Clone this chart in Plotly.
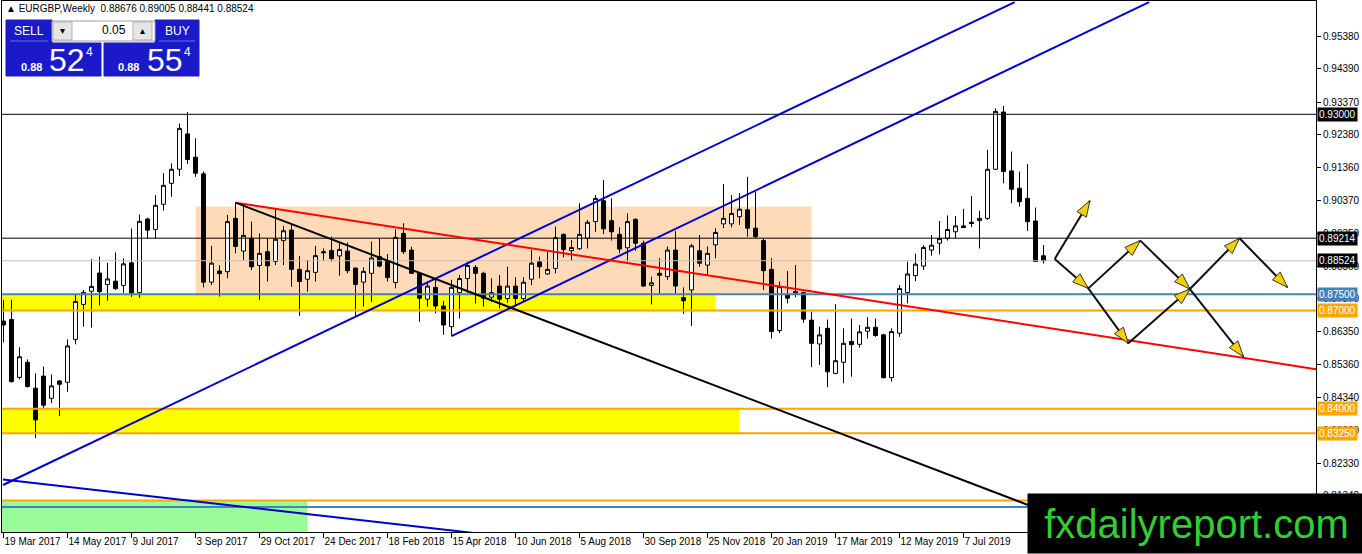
import math
import pandas as pd
import plotly.graph_objects as go

# ---------------- data (EURGBP weekly) ----------------
start_date = "2017-03-19"
opens = [0.8668, 0.8673, 0.8496, 0.8542, 0.8463, 0.8500, 0.8432, 0.8485, 0.8481, 0.8612,
         0.8719, 0.8759, 0.8815, 0.8780, 0.8790, 0.8777, 0.8846, 0.8755, 0.8980, 0.8948,
         0.9025, 0.9089, 0.9132, 0.9240, 0.9169, 0.9118, 0.8787, 0.8821, 0.8819, 0.8982,
         0.8882, 0.8921, 0.8838, 0.8880, 0.8850, 0.8914, 0.8946, 0.8826, 0.8796, 0.8817,
         0.8880, 0.8884, 0.8867, 0.8882, 0.8830, 0.8787, 0.8814, 0.8865, 0.8852, 0.8786,
         0.8936, 0.8885, 0.8814, 0.8735, 0.8771, 0.8714, 0.8651, 0.8755, 0.8798, 0.8832,
         0.8814, 0.8741, 0.8775, 0.8737, 0.8775, 0.8737, 0.8796, 0.8849, 0.8812, 0.8829,
         0.8933, 0.8883, 0.8889, 0.8921, 0.8972, 0.9036, 0.8975, 0.8933, 0.8892, 0.8979,
         0.8906, 0.8777, 0.8814, 0.8804, 0.8885, 0.8740, 0.8763, 0.8883, 0.8839, 0.8901,
         0.8965, 0.8965, 0.8987, 0.9008, 0.8952, 0.8914, 0.8826, 0.8639, 0.8748, 0.8753,
         0.8755, 0.8671, 0.8598, 0.8646, 0.8508, 0.8542, 0.8606, 0.8597, 0.8637, 0.8649,
         0.8626, 0.8495, 0.8631, 0.8755, 0.8807, 0.8836, 0.8885, 0.8906, 0.8921, 0.8941,
         0.8959, 0.8970, 0.8975, 0.8982, 0.9132, 0.9307, 0.9127, 0.9074, 0.9043, 0.8974,
         0.88676]
highs = [0.8733, 0.8733, 0.8588, 0.8551, 0.8508, 0.8529, 0.8505, 0.8488, 0.8612, 0.8749,
         0.8763, 0.8858, 0.8865, 0.8846, 0.8878, 0.8860, 0.8951, 0.8994, 0.8984, 0.9053,
         0.9120, 0.9150, 0.9272, 0.9307, 0.9227, 0.9125, 0.8898, 0.8839, 0.8992, 0.9030,
         0.9023, 0.8972, 0.8936, 0.8921, 0.9010, 0.8959, 0.8965, 0.8867, 0.8855, 0.8898,
         0.8890, 0.8926, 0.8911, 0.8908, 0.8832, 0.8832, 0.8911, 0.8921, 0.8873, 0.8948,
         0.8967, 0.8895, 0.8816, 0.8789, 0.8794, 0.8730, 0.8794, 0.8809, 0.8850, 0.8839,
         0.8819, 0.8799, 0.8809, 0.8834, 0.8802, 0.8802, 0.8885, 0.8865, 0.8880, 0.8957,
         0.8936, 0.8916, 0.9028, 0.8977, 0.9053, 0.9099, 0.9043, 0.8955, 0.8997, 0.8982,
         0.8914, 0.8804, 0.8860, 0.8896, 0.8943, 0.8771, 0.8904, 0.8931, 0.8896, 0.8952,
         0.9087, 0.9053, 0.9059, 0.9109, 0.9064, 0.8921, 0.8860, 0.8789, 0.8821, 0.8839,
         0.8758, 0.8697, 0.8651, 0.8673, 0.8720, 0.8646, 0.8676, 0.8656, 0.8680, 0.8676,
         0.8629, 0.8646, 0.8778, 0.8850, 0.8874, 0.8900, 0.8931, 0.8974, 0.8991, 0.8989,
         0.9011, 0.9050, 0.9005, 0.9191, 0.9318, 0.9326, 0.9186, 0.9125, 0.9148, 0.9015,
         0.89005]
lows = [0.8603, 0.8480, 0.8490, 0.8465, 0.8310, 0.8401, 0.8417, 0.8378, 0.8452, 0.8597,
        0.8651, 0.8648, 0.8716, 0.8730, 0.8763, 0.8754, 0.8742, 0.8739, 0.8920, 0.8921,
        0.9006, 0.9048, 0.9111, 0.9148, 0.9109, 0.8771, 0.8778, 0.8743, 0.8799, 0.8875,
        0.8855, 0.8824, 0.8732, 0.8789, 0.8839, 0.8839, 0.8773, 0.8684, 0.8758, 0.8789,
        0.8853, 0.8850, 0.8807, 0.8814, 0.8684, 0.8712, 0.8727, 0.8832, 0.8789, 0.8768,
        0.8873, 0.8812, 0.8666, 0.8712, 0.8692, 0.8626, 0.8622, 0.8676, 0.8755, 0.8722,
        0.8712, 0.8727, 0.8707, 0.8724, 0.8712, 0.8729, 0.8778, 0.8799, 0.8809, 0.8814,
        0.8863, 0.8853, 0.8885, 0.8890, 0.8941, 0.8934, 0.8914, 0.8875, 0.8850, 0.8883,
        0.8773, 0.8719, 0.8753, 0.8794, 0.8753, 0.8690, 0.8653, 0.8834, 0.8809, 0.8860,
        0.8952, 0.8955, 0.8962, 0.8926, 0.8921, 0.8763, 0.8615, 0.8631, 0.8722, 0.8741,
        0.8663, 0.8527, 0.8534, 0.8466, 0.8506, 0.8478, 0.8498, 0.8587, 0.8615, 0.8620,
        0.8493, 0.8483, 0.8620, 0.8722, 0.8790, 0.8824, 0.8868, 0.8872, 0.8914, 0.8921,
        0.8952, 0.8955, 0.8890, 0.8977, 0.9130, 0.9089, 0.9028, 0.9018, 0.8943, 0.8850,
        0.88441]
closes = [0.8656, 0.8483, 0.8559, 0.8468, 0.8366, 0.8411, 0.8470, 0.8475, 0.8592, 0.8728,
          0.8756, 0.8774, 0.8758, 0.8797, 0.8767, 0.8843, 0.8754, 0.8973, 0.8946, 0.9022,
          0.9083, 0.9132, 0.9257, 0.9162, 0.9120, 0.8787, 0.8845, 0.8813, 0.8972, 0.8896,
          0.8930, 0.8834, 0.8875, 0.8837, 0.8918, 0.8944, 0.8826, 0.8789, 0.8822, 0.8868,
          0.8877, 0.8859, 0.8887, 0.8822, 0.8780, 0.8820, 0.8861, 0.8836, 0.8801, 0.8924,
          0.8880, 0.8814, 0.8738, 0.8775, 0.8714, 0.8656, 0.8771, 0.8798, 0.8838, 0.8814,
          0.8738, 0.8755, 0.8735, 0.8775, 0.8737, 0.8787, 0.8845, 0.8834, 0.8826, 0.8923,
          0.8887, 0.8893, 0.8933, 0.8970, 0.9043, 0.8950, 0.8941, 0.8888, 0.8972, 0.8906,
          0.8775, 0.8785, 0.8808, 0.8885, 0.8775, 0.8730, 0.8898, 0.8845, 0.8875, 0.8939,
          0.8982, 0.8997, 0.9010, 0.8952, 0.8926, 0.8822, 0.8636, 0.8773, 0.8738, 0.8758,
          0.8674, 0.8600, 0.8626, 0.8513, 0.8547, 0.8600, 0.8596, 0.8635, 0.8649, 0.8624,
          0.8495, 0.8636, 0.8768, 0.8812, 0.8842, 0.8893, 0.8900, 0.8920, 0.8948, 0.8959,
          0.8954, 0.8966, 0.8982, 0.9132, 0.9309, 0.9125, 0.9071, 0.9033, 0.8972, 0.8850,
          0.88524]

x_tick_labels = ["19 Mar 2017", "14 May 2017", "9 Jul 2017", "3 Sep 2017", "29 Oct 2017",
                 "24 Dec 2017", "18 Feb 2018", "15 Apr 2018", "10 Jun 2018", "5 Aug 2018",
                 "30 Sep 2018", "25 Nov 2018", "20 Jan 2019", "17 Mar 2019", "12 May 2019",
                 "7 Jul 2019"]
y_tick_values = [0.95380, 0.94390, 0.93370, 0.92380, 0.91360, 0.90370, 0.89350, 0.88360,
                 0.87370, 0.86350, 0.85360, 0.84340, 0.83330, 0.82330, 0.81340]

# horizontal levels
level_prices = [0.93000, 0.89214, 0.88524, 0.87500, 0.87000, 0.84000, 0.83250, 0.81200, 0.81000]
level_colors = ["#000000", "#000000", "#C0C0C0", "#4682B4", "#FFA500", "#FFA500", "#FFA500",
                "#FFA500", "#4682B4"]
level_labelled = [True, True, True, True, True, True, True, False, False]
label_bg = ["#000000", "#000000", "#000000", "#4682B4", "#FFA500", "#FFA500", "#FFA500",
            None, None]

# zones: (week from, week to, price low, price high)
zone_week_from = [24, None, None, None]
zone_week_to = [101, 89, 92, 38]
zone_low = [0.8750, 0.8700, 0.8325, None]
zone_high = [0.9018, 0.8750, 0.8400, 0.8120]
zone_colors = ["#FFDAB9", "#FFFF00", "#FFFF00", "#98FB98"]

# trend lines: start week, start price, end week, end price
trend_w0 = [-0.06, 56.0, -0.06, 29.0, 29.0]
trend_p0 = [0.8167, 0.8622, 0.8184, 0.9030, 0.9030]
trend_w1 = [126.4, 143.2, 60.0, 164.1, 164.1]
trend_p1 = [0.9643, 0.9643, 0.8017, 0.8521, 0.7770]
trend_colors = ["#0000CD", "#0000CD", "#0000CD", "#FF0000", "#000000"]

# projected path arrows (week, price)
arrow_pts = {"A": (131.4, 0.8858), "A1": (135.8, 0.9036), "B": (135.6, 0.8768),
             "C": (142.1, 0.8914), "D": (140.6, 0.8600), "E": (148.3, 0.8766),
             "F": (154.5, 0.8921), "G": (155.0, 0.8559), "H": (160.5, 0.8771)}
arrow_legs = [("A", "A1"), ("A", "B"), ("B", "C"), ("B", "D"), ("C", "E"), ("D", "E"),
              ("E", "F"), ("E", "G"), ("F", "H")]

# ---------------- geometry ----------------
W, H = 1362, 554
ML, MR, MT, MB = 2, 46, 1, 22
PW, PH = W - ML - MR, H - MT - MB
X0, X1 = -0.1875, 164.06
Y0, Y1 = 0.80234, 0.96463

t0 = pd.Timestamp(start_date)
weeks = [i for i in range(len(opens))]
tick_vals = [(pd.Timestamp(s) - t0).days / 7 for s in x_tick_labels]


def px(x):
    return (x - ML) / PW


def py(y):
    return (MT + PH - y) / PH


fig = go.Figure()
fig.add_trace(go.Candlestick(
    x=weeks, open=opens, high=highs, low=lows, close=closes,
    increasing=dict(line=dict(color="#000000", width=1), fillcolor="#FFFFFF"),
    decreasing=dict(line=dict(color="#000000", width=1), fillcolor="#000000"),
    whiskerwidth=0, showlegend=False, hoverinfo="skip"))

shapes = []
# zones (background)
for wf, wt, lo, hi, col in zip(zone_week_from, zone_week_to, zone_low, zone_high, zone_colors):
    shapes.append(dict(type="rect", xref="x", yref="y",
                       x0=X0 if wf is None else wf, x1=wt,
                       y0=Y0 - 0.01 if lo is None else lo, y1=hi,
                       fillcolor=col, line=dict(width=0), layer="below"))
# levels
for p, c in zip(level_prices, level_colors):
    wdt = 2 if c in ("#FFA500", "#4682B4") else 1
    shapes.append(dict(type="line", xref="x", yref="y", x0=X0, x1=X1, y0=p, y1=p,
                       line=dict(color=c, width=wdt), layer="above"))
# trend lines
for w0, p0, w1, p1, c in zip(trend_w0, trend_p0, trend_w1, trend_p1, trend_colors):
    shapes.append(dict(type="line", xref="x", yref="y", x0=w0, y0=p0, x1=w1, y1=p1,
                       line=dict(color=c, width=2), layer="above"))

# arrows
sx = PW / (X1 - X0)
sy = PH / (Y1 - Y0)
HEAD_L, HEAD_W = 16, 5.5
for a, b in arrow_legs:
    (xa, ya), (xb, yb) = arrow_pts[a], arrow_pts[b]
    shapes.append(dict(type="line", xref="x", yref="y", x0=xa, y0=ya, x1=xb, y1=yb,
                       line=dict(color="#111111", width=2), layer="above"))
    dx, dy = (xb - xa) * sx, (yb - ya) * sy
    n = math.hypot(dx, dy)
    ux, uy = dx / n, dy / n
    bx, by = -ux * HEAD_L, -uy * HEAD_L
    pxs = [0, bx - uy * HEAD_W, bx + uy * HEAD_W]
    pys = [0, by + ux * HEAD_W, by - ux * HEAD_W]
    pts = [(xb + u / sx, yb + v / sy) for u, v in zip(pxs, pys)]
    path = "M {},{} L {},{} L {},{} Z".format(pts[0][0], pts[0][1], pts[1][0], pts[1][1],
                                              pts[2][0], pts[2][1])
    shapes.append(dict(type="path", xref="x", yref="y", path=path,
                       fillcolor="#F5D000", line=dict(color="#333333", width=1), layer="above"))

# one-click trading panel
BLUE = "#1A1AC8"
panel_rects = [
    (6, 20, 52, 43, BLUE, BLUE), (155, 20, 199, 43, BLUE, BLUE),
    (6, 43, 101, 76, BLUE, BLUE), (104, 43, 199, 76, BLUE, BLUE),
    (52, 21, 155, 41, "#FFFFFF", "#A0A0A0"),
    (53, 22, 72, 40, "#E6E6E6", "#B0B0B0"), (133, 22, 152, 40, "#E6E6E6", "#B0B0B0"),
]
for x0, y0, x1, y1, fc, lc in panel_rects:
    shapes.append(dict(type="rect", xref="paper", yref="paper", x0=px(x0), x1=px(x1),
                       y0=py(y1), y1=py(y0), fillcolor=fc, line=dict(color=lc, width=1),
                       layer="above"))
for x0, x1 in [(10, 48), (159, 195)]:
    shapes.append(dict(type="line", xref="paper", yref="paper", x0=px(x0), x1=px(x1),
                       y0=py(41), y1=py(41), line=dict(color="#6A6AF0", width=1), layer="above"))

annotations = []
FONT = "Liberation Sans, Arial, sans-serif"


def txt(x, y, s, size, color="#000000", xanchor="left", bold=False):
    annotations.append(dict(xref="paper", yref="paper", x=px(x), y=py(y),
                            text=("<b>%s</b>" % s) if bold else s,
                            showarrow=False, xanchor=xanchor, yanchor="middle",
                            font=dict(family=FONT, size=size, color=color)))


txt(4, 8, "▲ EURGBP,Weekly  0.88676 0.89005 0.88441 0.88524", 10)
txt(29, 31, "SELL", 12, "#FFFFFF", "center")
txt(177, 31, "BUY", 12, "#FFFFFF", "center")
txt(128, 30, "0.05", 12, "#000000", "right")
txt(62.5, 30, "▾", 10, "#000000", "center")
txt(142.5, 30, "▴", 10, "#000000", "center")
txt(19, 67, "0.88", 11, "#FFFFFF", "left", True)
txt(47, 60, "52", 32, "#FFFFFF", "left")
txt(84, 52, "4", 12, "#FFFFFF", "left")
txt(116, 67, "0.88", 11, "#FFFFFF", "left", True)
txt(145, 60, "55", 32, "#FFFFFF", "left")
txt(182, 52, "4", 12, "#FFFFFF", "left")

# price labels on axis
for p, lab, bg in zip(level_prices, level_labelled, label_bg):
    if lab:
        annotations.append(dict(xref="paper", yref="y", x=1, y=p, xanchor="left", yanchor="middle",
                                xshift=1, text="%.5f" % p, showarrow=False, bgcolor=bg,
                                borderpad=1, font=dict(family=FONT, size=10, color="#FFFFFF")))

# watermark
annotations.append(dict(xref="paper", yref="paper", x=px(1027), y=py(554), xanchor="left",
                        yanchor="bottom", width=335, height=57, text="fxdailyreport.com",
                        showarrow=False, bgcolor="#000000", align="center", valign="middle",
                        font=dict(family=FONT, size=40, color="#33CC33")))

fig.update_layout(
    width=W, height=H, margin=dict(l=ML, r=MR, t=MT, b=MB, autoexpand=False),
    paper_bgcolor="#FFFFFF", plot_bgcolor="#FFFFFF",
    shapes=shapes, annotations=annotations, showlegend=False,
    xaxis=dict(range=[X0, X1], tickmode="array", tickvals=tick_vals, ticktext=x_tick_labels,
               ticks="outside", ticklen=5, tickcolor="#000000", showgrid=False, zeroline=False,
               showline=True, linecolor="#000000", linewidth=1, mirror=True, tickangle=0,
               ticklabelposition="outside right", rangeslider=dict(visible=False),
               tickfont=dict(family=FONT, size=10, color="#000000")),
    yaxis=dict(range=[Y0, Y1], side="right", tickmode="array", tickvals=y_tick_values,
               tickformat=".5f", ticks="outside", ticklen=4, tickcolor="#000000",
               showgrid=False, zeroline=False, showline=True, linecolor="#000000",
               linewidth=1, mirror=True, tickfont=dict(family=FONT, size=10, color="#000000")),
)

fig.write_html("out.html", config={"displayModeBar": False},
               post_script="document.body.style.margin='0';document.body.style.overflow='hidden';")
